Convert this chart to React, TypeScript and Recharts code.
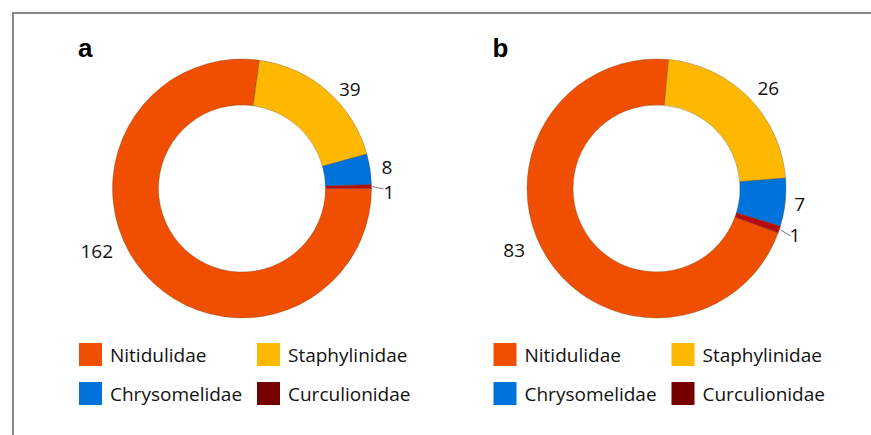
import React from "react";
import { PieChart, Pie, Cell, Legend } from "recharts";

const families = ["Nitidulidae", "Staphylinidae", "Chrysomelidae", "Curculionidae"];
const valuesA = [162, 39, 8, 1];
const valuesB = [83, 26, 7, 1];
const panelLabels = ["a", "b"];

const sliceColors = ["#F04E00", "#FFB800", "#0072DC", "#B80C0C"];
const legendColors = ["#F04E00", "#FFB800", "#0072DC", "#760000"];

const RAD = Math.PI / 180;
const FONT = "'Open Sans', 'Noto Sans', sans-serif";

const W = 436;
const H = 435;

type Cfg = {
  left: number;
  cx: number;
  startAngle: number;
  shift: number[];
  radius: number[];
  legendX: number;
};

const cfgA: Cfg = {
  left: 0,
  cx: 242,
  startAngle: 0,
  shift: [18, 6, 0, 2.4],
  radius: [158, 147, 146.7, 147],
  legendX: 79,
};
const cfgB: Cfg = {
  left: 436,
  cx: 220.5,
  startAngle: -20,
  shift: [9, 2.6, 0, 0],
  radius: [155, 150.5, 144, 146],
  legendX: 57.5,
};

const CY = 188.5;
const OUTER = 129.5;
const INNER = 83.5;

const makeLabel = (cfg: Cfg) => (props: any) => {
  const { midAngle, index, value } = props;
  const cx = props.cx ?? cfg.cx;
  const cy = props.cy ?? CY;
  const outerRadius = props.outerRadius ?? OUTER;
  const a = (midAngle - cfg.shift[index]) * RAD;
  const r = cfg.radius[index];
  const x = cx + r * Math.cos(a);
  const y = cy - r * Math.sin(a);
  const m = midAngle * RAD;
  const showLine = index === 3;
  return (
    <g key={`lbl-${index}`}>
      {showLine && (
        <line
          x1={cx + (outerRadius + 1) * Math.cos(m)}
          y1={cy - (outerRadius + 1) * Math.sin(m)}
          x2={cx + (outerRadius + 12) * Math.cos(m)}
          y2={cy - (outerRadius + 12) * Math.sin(m) + 2.5}
          stroke="#7f7f7f"
          strokeWidth={1}
        />
      )}
      <text
        x={x}
        y={y}
        textAnchor="middle"
        dominantBaseline="central"
        fontFamily={FONT}
        fontSize={19}
        fill="#111"
      >
        {value}
      </text>
    </g>
  );
};

const makeLegend = (cfg: Cfg) => () => {
  const colGap = 178;
  const rows = [0, 0, 1, 1];
  const cols = [0, 1, 0, 1];
  return (
    <svg width={W} height={90} style={{ display: "block" }}>
      {families.map((f, i) => {
        const x = cfg.legendX + cols[i] * colGap;
        const y = rows[i] * 39;
        return (
          <g key={f}>
            <rect x={x} y={y} width={23} height={23} fill={legendColors[i]} />
            <text
              x={x + 31}
              y={y + 19}
              fontFamily={FONT}
              fontSize={19}
              fill="#111"
            >
              {f}
            </text>
          </g>
        );
      })}
    </svg>
  );
};

function Panel({ cfg, values, letter }: { cfg: Cfg; values: number[]; letter: string }) {
  const data = families.map((name, i) => ({ name, value: values[i] }));
  return (
    <div style={{ position: "absolute", left: cfg.left, top: 0, width: W, height: H }}>
      <PieChart width={W} height={H} margin={{ top: 0, right: 0, bottom: 0, left: 0 }}>
        <Pie
          data={data}
          dataKey="value"
          nameKey="name"
          cx={cfg.cx}
          cy={CY}
          innerRadius={INNER}
          outerRadius={OUTER}
          startAngle={cfg.startAngle}
          endAngle={cfg.startAngle - 360}
          paddingAngle={0}
          isAnimationActive={false}
          label={makeLabel(cfg)}
          labelLine={false}
          stroke="rgba(90,60,30,0.45)"
          strokeWidth={0.7}
        >
          {data.map((d, i) => (
            <Cell key={d.name} fill={sliceColors[i]} />
          ))}
        </Pie>
        <Legend
          layout="vertical"
          align="center"
          verticalAlign="middle"
          wrapperStyle={{ position: "absolute", left: 0, top: 343, width: W, height: 90 }}
          content={makeLegend(cfg)}
        />
      </PieChart>
      <svg
        width={W}
        height={80}
        style={{ position: "absolute", left: 0, top: 0, pointerEvents: "none" }}
      >
        <text
          x={cfg.cx - 164}
          y={57}
          fontFamily="'Liberation Sans Narrow', 'Liberation Sans', Arial, sans-serif"
          fontWeight="bold"
          fontSize={26}
          fill="#000"
        >
          {letter}
        </text>
      </svg>
    </div>
  );
}

export default function App() {
  return (
    <div
      style={{
        position: "absolute",
        left: 0,
        top: 0,
        width: 871,
        height: 435,
        background: "#fff",
        overflow: "hidden",
      }}
    >
      <div
        style={{
          position: "absolute",
          left: 12,
          top: 12,
          width: 900,
          height: 500,
          borderTop: "2px solid #8a8a8a",
          borderLeft: "2px solid #8a8a8a",
        }}
      />
      <Panel cfg={cfgA} values={valuesA} letter={panelLabels[0]} />
      <Panel cfg={cfgB} values={valuesB} letter={panelLabels[1]} />
    </div>
  );
}
